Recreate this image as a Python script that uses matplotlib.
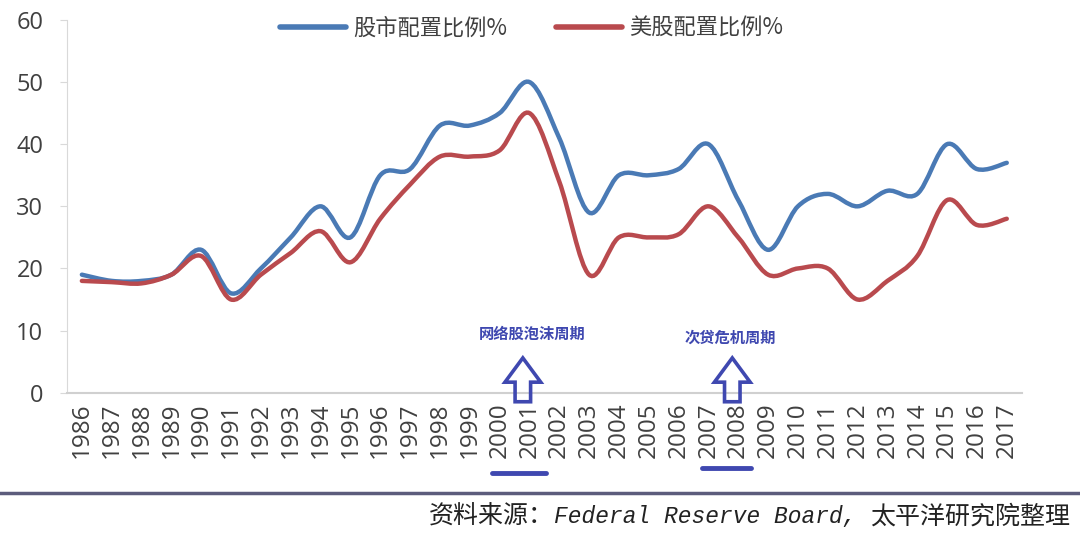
import numpy as np
import matplotlib
matplotlib.use("Agg")
import matplotlib.pyplot as plt
from matplotlib.path import Path
from matplotlib.patches import PathPatch, FancyArrow
from matplotlib.lines import Line2D
from matplotlib.offsetbox import TextArea, HPacker, AnchoredOffsetbox

plt.rcParams['font.family'] = ['Noto Sans CJK SC', 'DejaVu Sans']

years = list(range(1986, 2018))
stock_alloc = [19, 18, 18, 19, 23, 16, 20, 25, 30, 25, 35, 36, 43, 43, 45, 50,
               41, 29, 35, 35, 36, 40, 31, 23, 30, 32, 30, 32.5, 32, 40, 36, 37]
us_stock_alloc = [18, 17.8, 17.6, 19, 22, 15, 19, 22.5, 26, 21, 28, 33.5, 38, 38, 39, 45,
                  34, 19, 25, 25, 25.5, 30, 25, 19, 20, 20, 15, 18, 22, 31, 27, 28]
series_names = ['股市配置比例%', '美股配置比例%']
series_colors = ['#4a7ab5', '#b94a4e']
annotations = ['网络股泡沫周期', '次贷危机周期']
source_parts = ['资料来源：', 'Federal Reserve Board, ', '太平洋研究院整理']


def smooth_path(x, y, t=1/6):
    x = np.asarray(x, float); y = np.asarray(y, float)
    n = len(x)
    verts = [(x[0], y[0])]
    codes = [Path.MOVETO]
    for i in range(n - 1):
        p0 = (x[max(i - 1, 0)], y[max(i - 1, 0)])
        p1 = (x[i], y[i]); p2 = (x[i + 1], y[i + 1])
        p3 = (x[min(i + 2, n - 1)], y[min(i + 2, n - 1)])
        c1 = (p1[0] + (p2[0] - p0[0]) * t, p1[1] + (p2[1] - p0[1]) * t)
        c2 = (p2[0] - (p3[0] - p1[0]) * t, p2[1] - (p3[1] - p1[1]) * t)
        verts += [c1, c2, p2]
        codes += [Path.CURVE4] * 3
    return Path(verts, codes)


fig = plt.figure(figsize=(10.8, 5.38), dpi=100)
ax = fig.add_axes([0.062, 0.270, 0.884, 0.693])

for vals, col in zip([stock_alloc, us_stock_alloc], series_colors):
    ax.add_patch(PathPatch(smooth_path(years, vals), facecolor='none',
                           edgecolor=col, lw=3.2, capstyle='round', zorder=3))

ax.set_xlim(1985.5, 2017.5)
ax.set_ylim(0, 60)
ax.set_yticks(range(0, 61, 10))
ax.set_yticklabels([str(v) for v in range(0, 61, 10)], family='Open Sans', fontsize=17,
                   color='#404040')
ax.set_xticks(years)
ax.set_xticklabels([str(y) for y in years], rotation=90, fontsize=17.5,
                   color='#404040', family='Open Sans')
ax.tick_params(axis='y', length=5, color='#d9d9d9', pad=12)
ax.tick_params(axis='x', length=0, pad=7)
for s in ['top', 'right']:
    ax.spines[s].set_visible(False)
ax.spines['left'].set_color('#d9d9d9')
ax.spines['bottom'].set_color('#d0d0d0')
ax.spines['bottom'].set_linewidth(1.5)

# legend
handles = [Line2D([0], [0], color=c, lw=4, solid_capstyle='round') for c in series_colors]
leg = fig.legend(handles, series_names, loc='center', bbox_to_anchor=(0.492, 0.948),
                 ncol=2, frameon=False, fontsize=16, handlelength=3.0,
                 columnspacing=2.2, handletextpad=0.3)
for t in leg.get_texts():
    t.set_color('#404040')

# annotations
ann_color = '#3f48b0'
ann_x = [2000.78, 2007.8]
ann_text_x = [2001.1, 2007.75]
ann_text_y = [9.4, 8.9]
for ax_x, tx, ty, txt in zip(ann_x, ann_text_x, ann_text_y, annotations):
    ax.text(tx, ty, txt, color=ann_color, fontsize=11, fontweight='bold',
            ha='center', va='center')
    ax.add_patch(FancyArrow(ax_x, -1.45, 0, 7.05, width=0.52, head_width=1.2,
                            head_length=3.9, length_includes_head=True,
                            fill=False, edgecolor=ann_color, lw=2.6, clip_on=False,
                            zorder=4))

fig.add_artist(Line2D([0.456, 0.506], [0.121, 0.121], color=ann_color, lw=3.5,
                      solid_capstyle='round'))
fig.add_artist(Line2D([0.650, 0.695], [0.130, 0.130], color=ann_color, lw=3.5,
                      solid_capstyle='round'))

# footer
fig.add_artist(Line2D([0, 1], [0.0836, 0.0836], color='#5c5c7c', lw=2.5))
boxes = [
    TextArea(source_parts[0], textprops=dict(fontsize=18, color='#222222',
                                             family=['Noto Sans CJK SC'])),
    TextArea(source_parts[1], textprops=dict(fontsize=16.5, color='#222222', style='italic',
                                             family=['Liberation Mono', 'DejaVu Sans Mono'])),
    TextArea(source_parts[2], textprops=dict(fontsize=18, color='#222222',
                                             family=['Noto Sans CJK SC'])),
]
pack = HPacker(children=boxes, align='baseline', pad=0, sep=0)
anch = AnchoredOffsetbox(loc='center right', child=pack, frameon=False, pad=0,
                         borderpad=0, bbox_to_anchor=(0.991, 0.040),
                         bbox_transform=fig.transFigure)
fig.add_artist(anch)

fig.savefig('out.png', dpi=100, facecolor='white')
